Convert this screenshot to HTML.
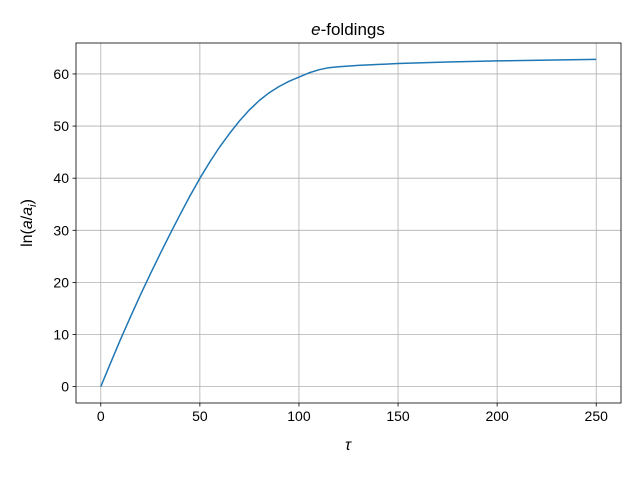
<!DOCTYPE html>
<html><head><meta charset="utf-8"><style>
body{margin:0;background:#fff;}
svg{font-family:"Liberation Sans","DejaVu Sans",sans-serif;}
</style></head><body>
<svg id="chart" width="640" height="472">
<rect width="640" height="472" fill="#fff"/>
<g id="grid"></g>
<g id="ticks"></g>
<path id="line" fill="none" stroke="#1f77b4" stroke-width="1.5" stroke-linejoin="round"/>
<rect x="76" y="43" width="545" height="360" fill="none" stroke="#000" stroke-width="0.8"/>
<text x="348" y="35" text-anchor="middle" font-size="17"><tspan font-style="italic">e</tspan>-foldings</text>
<text x="348" y="450" text-anchor="middle" font-size="16" font-style="italic">τ</text>
<text transform="translate(32,223) rotate(-90)" text-anchor="middle" font-size="16">ln(<tspan font-style="italic">a</tspan>/<tspan font-style="italic">a</tspan><tspan font-style="italic" font-size="11" dy="4">i</tspan><tspan dy="-4">)</tspan></text>
</svg>
<script>
const xs=[0,5,10,15,20,25,30,35,40,45,50,55,60,65,70,75,80,85,90,95,100,105,110,115,120,130,150,175,200,225,250];
const ys=[0,4.6,9.1,13.4,17.6,21.6,25.5,29.3,33.0,36.6,40,43.1,46,48.6,51,53.1,54.9,56.4,57.6,58.6,59.4,60.2,60.8,61.2,61.4,61.65,62,62.3,62.5,62.65,62.8];
const xTicks=[0,50,100,150,200,250];
const yTicks=[0,10,20,30,40,50,60];
const L=76,R=621,T=43,B=403,x0=-12.5,x1=262.5,y0=-3.14,y1=65.94;
const X=v=>L+(v-x0)/(x1-x0)*(R-L), Y=v=>B-(v-y0)/(y1-y0)*(B-T);
const ns="http://www.w3.org/2000/svg";
const g=document.getElementById('grid'),tk=document.getElementById('ticks');
function mk(p,tag,a){const e=document.createElementNS(ns,tag);for(const k in a)e.setAttribute(k,a[k]);p.appendChild(e);return e;}
xTicks.forEach(v=>{const x=X(v);
 const gl=mk(g,'line',{x1:x,x2:x,y1:T,y2:B,stroke:'#b0b0b0','stroke-width':0.8});
 
 
 mk(tk,'line',{x1:x,x2:x,y1:B,y2:B+3.5,stroke:'#000','stroke-width':0.8});
 const t=mk(tk,'text',{x:x,y:B+18,'text-anchor':'middle','font-size':14});t.textContent=v;
 
 });
yTicks.forEach(v=>{const y=Y(v);
 const gl=mk(g,'line',{x1:L,x2:R,y1:y,y2:y,stroke:'#b0b0b0','stroke-width':0.8});
 
 
 mk(tk,'line',{x1:L-3.5,x2:L,y1:y,y2:y,stroke:'#000','stroke-width':0.8});
 const t=mk(tk,'text',{x:L-7,y:y+5,'text-anchor':'end','font-size':14});t.textContent=v;
 
 });
document.getElementById('line').setAttribute('d',xs.map((v,i)=>(i?'L':'M')+X(v).toFixed(1)+','+Y(ys[i]).toFixed(1)).join(''));
</script>
</body></html>
